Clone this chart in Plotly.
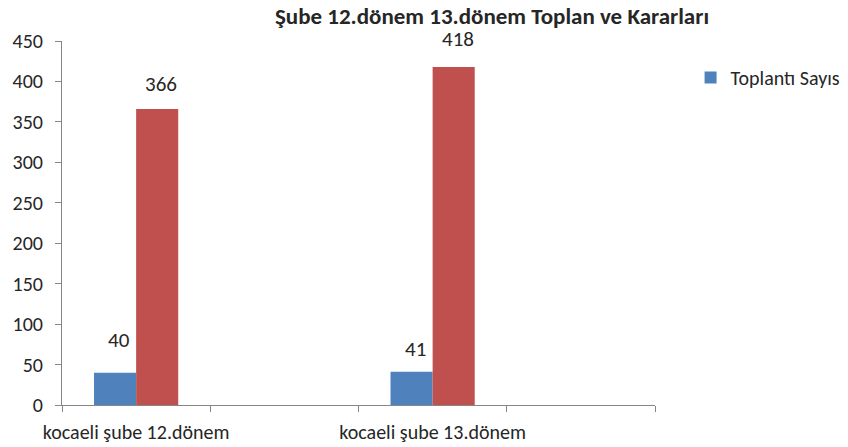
import plotly.graph_objects as go

categories = ["kocaeli şube 12.dönem", " ", "kocaeli şube 13.dönem", "  "]
bar_categories = ["kocaeli şube 12.dönem", "kocaeli şube 13.dönem"]
toplanti = [40, 41]
karar = [366, 418]
title = "Şube 12.dönem 13.dönem Toplan ve Kararları"
yticks = [0, 50, 100, 150, 200, 250, 300, 350, 400, 450]

# label placement offsets (pixels), as in the original chart
toplanti_label_shift = [33, 23]
karar_label_shift = [25, 28]

FONT = "Carlito, Lato, sans-serif"
BLUE = "#4F81BD"
RED = "#C0504D"
TXT = "#262626"

fig = go.Figure()
fig.add_trace(go.Bar(x=bar_categories, y=toplanti, name="Toplantı Sayısı",
                     marker=dict(color=BLUE, line=dict(width=0))))
fig.add_trace(go.Bar(x=bar_categories, y=karar, name="Karar Sayısı", showlegend=False,
                     marker=dict(color=RED, line=dict(width=0))))

for cat, v, s in zip(bar_categories, toplanti, toplanti_label_shift):
    fig.add_annotation(x=cat, y=v, xref="x", yref="y", text=str(v), showarrow=False,
                       xshift=-17, yshift=s, font=dict(family=FONT, size=21, color=TXT))
for cat, v, s in zip(bar_categories, karar, karar_label_shift):
    fig.add_annotation(x=cat, y=v, xref="x", yref="y", text=str(v), showarrow=False,
                       xshift=25, yshift=s, font=dict(family=FONT, size=21, color=TXT))

fig.update_layout(
    width=840, height=439,
    margin=dict(l=54, r=193, t=33, b=42, autoexpand=False),
    paper_bgcolor="white", plot_bgcolor="white",
    barmode="group", bargap=0.432, bargroupgap=0,
    font=dict(family=FONT, size=20, color=TXT),
    title=dict(text="<b>" + title + "</b>", x=484/840, xanchor="center", y=1 - 8/439, yanchor="middle",
               font=dict(family=FONT, size=23, color=TXT)),
    legend=dict(x=1.060, y=0.90, xanchor="left", yanchor="middle",
                font=dict(family=FONT, size=20, color=TXT), bgcolor="rgba(0,0,0,0)"),
    xaxis=dict(type="category", categoryorder="array", categoryarray=categories,
               tickson="boundaries", ticks="outside", ticklen=6, tickcolor="#868686",
               showline=True, linecolor="#868686", linewidth=1, showgrid=False,
               tickangle=0, automargin=False, ticklabelstandoff=9,
               range=[-0.5, 3.5], tickfont=dict(family=FONT, size=20, color=TXT)),
    yaxis=dict(range=[0, 450], tickvals=yticks, ticks="outside", ticklen=6, tickcolor="#868686",
               showline=True, linecolor="#868686", linewidth=1, showgrid=False, zeroline=False,
               automargin=False, ticklabelstandoff=8,
               tickfont=dict(family=FONT, size=20, color=TXT)),
)

fig.write_html("out.html")
